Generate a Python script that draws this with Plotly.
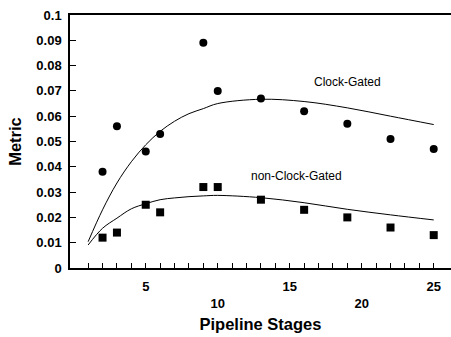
import plotly.graph_objects as go

# Measured points
stages = [2, 3, 5, 6, 9, 10, 13, 16, 19, 22, 25]
clock_gated = [0.038, 0.056, 0.046, 0.053, 0.089, 0.070, 0.067, 0.062, 0.057, 0.051, 0.047]
non_clock_gated = [0.012, 0.014, 0.025, 0.022, 0.032, 0.032, 0.027, 0.023, 0.020, 0.016, 0.013]

# Model curves
model_stages = [1, 2, 3, 4, 5, 6, 7, 8, 9, 10, 13, 16, 19, 22, 25]
clock_gated_model = [0.0104, 0.023, 0.0336, 0.042, 0.0487, 0.054, 0.058, 0.061,
                     0.063, 0.065, 0.0667, 0.0658, 0.0633, 0.060, 0.0567]
non_clock_gated_model = [0.0091, 0.0157, 0.0197, 0.0234, 0.0254, 0.027, 0.0277, 0.0282,
                         0.0285, 0.0287, 0.0278, 0.0258, 0.0232, 0.021, 0.019]

# X ticks: every stage, labels staggered on two rows
x_tickvals = list(range(1, 26))
x_labels = {5: "5", 10: "<br>10", 15: "15", 20: "<br>20", 25: "25"}
x_ticktext = [x_labels.get(v, "") for v in x_tickvals]

y_tickvals = [0, 0.01, 0.02, 0.03, 0.04, 0.05, 0.06, 0.07, 0.08, 0.09, 0.1]
y_ticktext = ["0", "0.01", "0.02", "0.03", "0.04", "0.05", "0.06", "0.07", "0.08", "0.09", "0.1"]

font_family = "Liberation Sans, Arial, sans-serif"

fig = go.Figure()
fig.add_trace(go.Scatter(x=model_stages, y=clock_gated_model, mode="lines",
                         line=dict(color="black", width=1), line_shape="spline"))
fig.add_trace(go.Scatter(x=model_stages, y=non_clock_gated_model, mode="lines",
                         line=dict(color="black", width=1), line_shape="spline"))
fig.add_trace(go.Scatter(x=stages, y=clock_gated, mode="markers",
                         marker=dict(symbol="circle", size=8, color="black")))
fig.add_trace(go.Scatter(x=stages, y=non_clock_gated, mode="markers",
                         marker=dict(symbol="square", size=8, color="black")))

fig.add_annotation(x=19, y=0.0735, text="Clock-Gated", showarrow=False,
                   font=dict(family=font_family, size=12, color="black"))
fig.add_annotation(x=15.5, y=0.0362, text="non-Clock-Gated", showarrow=False,
                   font=dict(family=font_family, size=12, color="black"))

fig.update_layout(
    width=451, height=337,
    margin=dict(l=70, r=0, t=15, b=69),
    paper_bgcolor="white", plot_bgcolor="white",
    showlegend=False,
    font=dict(family=font_family, color="black"),
    xaxis=dict(
        range=[-0.26, 26.2],
        tickmode="array", tickvals=x_tickvals, ticktext=x_ticktext,
        ticks="inside", ticklen=5, tickwidth=1, tickcolor="black",
        ticklabelstandoff=5,
        showline=True, linecolor="black", linewidth=2, mirror=True,
        showgrid=False, zeroline=False,
        tickfont=dict(family=font_family, size=13, color="black", weight="bold"),
        title=dict(text="<b>Pipeline Stages</b>", standoff=9,
                   font=dict(family=font_family, size=16.5, color="black")),
    ),
    yaxis=dict(
        range=[0, 0.1],
        tickmode="array", tickvals=y_tickvals, ticktext=y_ticktext,
        ticks="inside", ticklen=6, tickwidth=1, tickcolor="black",
        ticklabelstandoff=4,
        showline=True, linecolor="black", linewidth=1.5,
        showgrid=False, zeroline=False,
        tickfont=dict(family=font_family, size=13, color="black", weight="bold"),
        title=dict(text="<b>Metric</b>", standoff=11,
                   font=dict(family=font_family, size=16.5, color="black")),
    ),
)

fig.write_html("out.html")
